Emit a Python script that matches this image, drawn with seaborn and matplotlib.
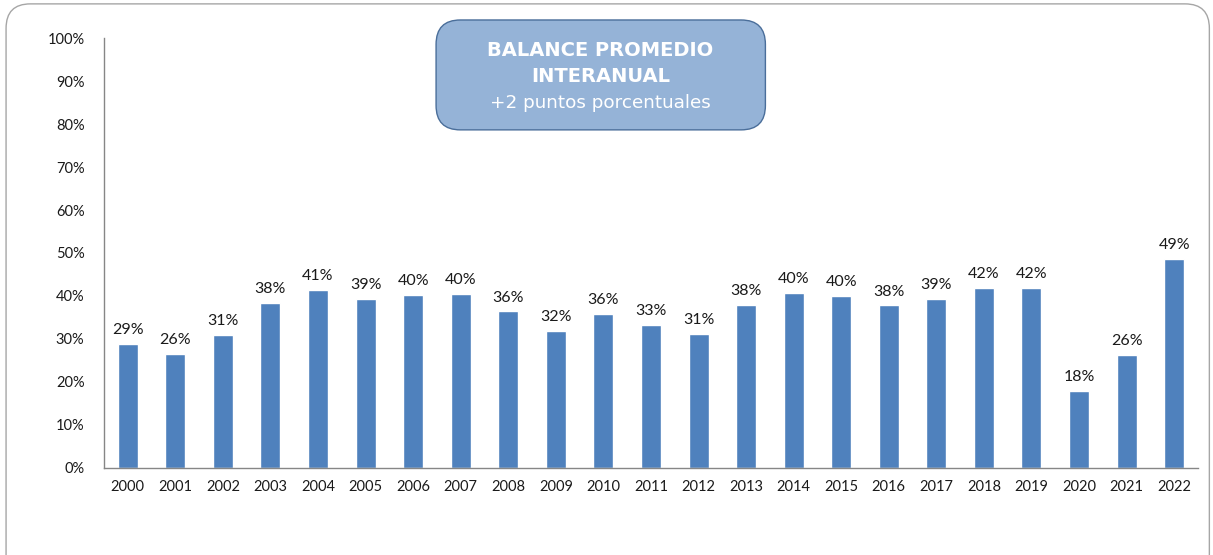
import seaborn as sns
import matplotlib.pyplot as plt
from matplotlib.patches import FancyBboxPatch
from matplotlib.ticker import PercentFormatter
import pandas as pd

sns.set_style("white")
plt.rcParams['font.family'] = ['Lato', 'DejaVu Sans']

years = [str(y) for y in range(2000, 2023)]
balance = [28.8, 26.6, 30.9, 38.3, 41.5, 39.3, 40.2, 40.4, 36.4, 31.9, 35.8, 33.2,
           31.2, 37.9, 40.7, 40.0, 37.8, 39.3, 41.9, 41.9, 17.9, 26.3, 48.6]
labels = ["29%", "26%", "31%", "38%", "41%", "39%", "40%", "40%", "36%", "32%", "36%", "33%",
          "31%", "38%", "40%", "40%", "38%", "39%", "42%", "42%", "18%", "26%", "49%"]

df = pd.DataFrame({"year": years, "balance": balance})

fig = plt.figure(figsize=(12.13, 5.55), dpi=100)
ax = fig.add_axes([0.0857, 0.1568, 0.9019, 0.7747])

sns.barplot(data=df, x="year", y="balance", color="#4F81BD", saturation=1,
            width=0.42, ax=ax)

for i, (v, lab) in enumerate(zip(balance, labels)):
    ax.text(i, v + 1.6, lab, ha="center", va="bottom", fontsize=11.5, color="#1a1a1a")

ax.set_ylim(0, 100)
ax.set_xlim(-0.5, len(years) - 0.5)
ax.set_yticks(range(0, 101, 10))
ax.yaxis.set_major_formatter(PercentFormatter(decimals=0))
ax.set_xlabel("")
ax.set_ylabel("")
ax.tick_params(axis="both", length=0, labelsize=10.5, colors="#1a1a1a")
ax.tick_params(axis="y", pad=14)
ax.tick_params(axis="x", pad=9)
for s in ["top", "right"]:
    ax.spines[s].set_visible(False)
for s in ["left", "bottom"]:
    ax.spines[s].set_color("#868686")
    ax.spines[s].set_linewidth(1)

# outer chart frame
frame = FancyBboxPatch((0.005, -0.05), 0.992, 1.043, boxstyle="round,pad=0,rounding_size=0.02",
                       transform=fig.transFigure, facecolor="none", edgecolor="#A6A6A6",
                       linewidth=1, mutation_aspect=2.2, zorder=0)
fig.patches.append(frame)

# title box
box = FancyBboxPatch((0.3595, 0.766), 0.2715, 0.198, boxstyle="round,pad=0,rounding_size=0.02",
                     transform=fig.transFigure, facecolor="#95B3D7", edgecolor="#4A6E9A",
                     linewidth=1, mutation_aspect=2.2, zorder=5)
fig.patches.append(box)
title_kw = dict(ha="center", va="center", color="white",
                family=["DejaVu Sans"], zorder=10)
fig.text(0.495, 0.909, "BALANCE PROMEDIO", fontweight="bold", fontsize=14, **title_kw)
fig.text(0.495, 0.863, "INTERANUAL", fontweight="bold", fontsize=14, **title_kw)
fig.text(0.495, 0.815, "+2 puntos porcentuales", fontsize=13.2, **title_kw)

plt.savefig("out.png", dpi=100)
